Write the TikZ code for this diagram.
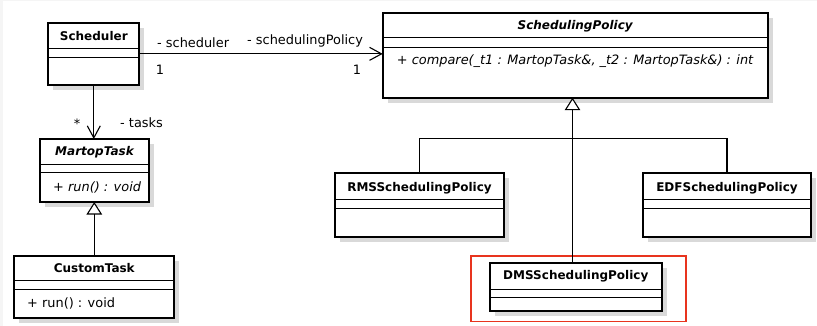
\documentclass[tikz,border=0pt]{standalone}
\usepackage{fontspec}
\setmainfont{DejaVu Sans}
\usetikzlibrary{arrows.meta,calc}
\definecolor{shadowc}{RGB}{217,217,217}
\definecolor{hlred}{RGB}{232,52,30}
\tikzset{
  classbox/.style={draw=black, line width=2.3pt, fill=white, inner sep=0pt, outer sep=0pt, anchor=north west},
  divline/.style={line width=1pt},
  shadowbox/.style={fill=shadowc},
  title/.style={font=\fontsize{12}{14}\selectfont\bfseries, inner sep=0pt},
  atitle/.style={font=\fontsize{12}{14}\selectfont\bfseries\itshape, inner sep=0pt},
  member/.style={font=\fontsize{12.9}{15}\selectfont, inner sep=0pt, anchor=west},
  amember/.style={font=\fontsize{12.9}{15}\selectfont\itshape, inner sep=0pt, anchor=west},
  lbl/.style={font=\fontsize{12.9}{15}\selectfont, inner sep=0pt},
  assoc/.style={line width=1.1pt, -{Straight Barb[length=12pt,width=13pt,line width=1.1pt]}},
  gen/.style={line width=1.1pt, -{Triangle[open,length=12.5pt,width=15.5pt,line width=1.1pt,fill=white]}},
  tree/.style={line width=1.1pt},
}
% name, x1, y1, x2, y2, divider1, divider2
\newcommand{\umlbox}[7]{%
  \fill[shadowbox] (#2+5,#3+5) rectangle (#4+5,#5+5);
  \node[classbox, minimum width={(#4-#2)*1pt}, minimum height={(#5-#3)*1pt}] (#1) at (#2,#3) {};
  \draw[divline] (#2,#6) -- (#4,#6);
  \draw[divline] (#2,#7) -- (#4,#7);
}
\begin{document}
\begin{tikzpicture}[x=1pt,y=-1pt]
\useasboundingbox (0,0) rectangle (817,326);
\fill[white] (0,0) rectangle (817,326);
\fill[black!4] (0,0) rectangle (3,326);
\fill[black!4] (0,0) rectangle (817,1);

% classes
\umlbox{sched}{48.3}{22.7}{139.3}{85}{48.3}{57.3}
\node[title] (schedT) at (93.8,36) {Scheduler};

\umlbox{mt}{40}{139}{149}{202}{164.3}{172.9}
\node[atitle] (mtT) at (94.5,152) {MartopTask};
\node[amember] (mtM) at (53,187) {+ run() : void};

\umlbox{ct}{14.3}{255.7}{174.3}{318.3}{280.7}{289.3}
\node[title] (ctT) at (94.3,268) {CustomTask};
\node[member] (ctM) at (27,303.5) {+ run() : void};

\umlbox{pol}{382.7}{13.3}{767.7}{97.7}{37.7}{47.3}
\node[atitle] (polT) at (575.2,26.5) {SchedulingPolicy};
\node[amember] (polM) at (396.7,61.5) {+ compare(\_t1 : MartopTask\&, \_t2 : MartopTask\&) : int};

\umlbox{rms}{335}{173.3}{504}{236.7}{199.3}{208.3}
\node[title] (rmsT) at (419.5,188.3) {RMSSchedulingPolicy};

\umlbox{edf}{643.3}{173.3}{810.7}{236.7}{199.3}{208.3}
\node[title] (edfT) at (727,188.3) {EDFSchedulingPolicy};

\umlbox{dms}{490}{263.3}{661.7}{310.7}{289.3}{297.7}
\node[title] (dmsT) at (575.8,276.7) {DMSSchedulingPolicy};

% highlight
\node[draw=hlred, line width=1.6pt, inner sep=0pt, anchor=north west, minimum width=215pt, minimum height=65.7pt] (hl) at (470,255) {};

% associations
\draw[assoc] (sched.east) -- (sched.east -| pol.west);
\node[lbl, anchor=west] (l1) at (157,43) {- scheduler};
\node[lbl] (l2) at (160,70) {1};
\node[lbl, anchor=west] (l3) at (247,41) {- schedulingPolicy};
\node[lbl] (l4) at (357,70) {1};

\draw[assoc] (sched.south) -- (sched.south |- mt.north);
\node[lbl] (l5) at (77,124) {*};
\node[lbl, anchor=west] (l6) at (120,123) {- tasks};

% generalizations
\draw[gen] (ct.north) -- (ct.north |- mt.south);
\coordinate (trunk) at (572.5,138.3);
\draw[gen] (trunk |- dms.north) -- (trunk |- pol.south);
\draw[tree] (rms.north) -- (rms.north |- trunk) -- (edf.north |- trunk) -- (edf.north);
\end{tikzpicture}
\end{document}
